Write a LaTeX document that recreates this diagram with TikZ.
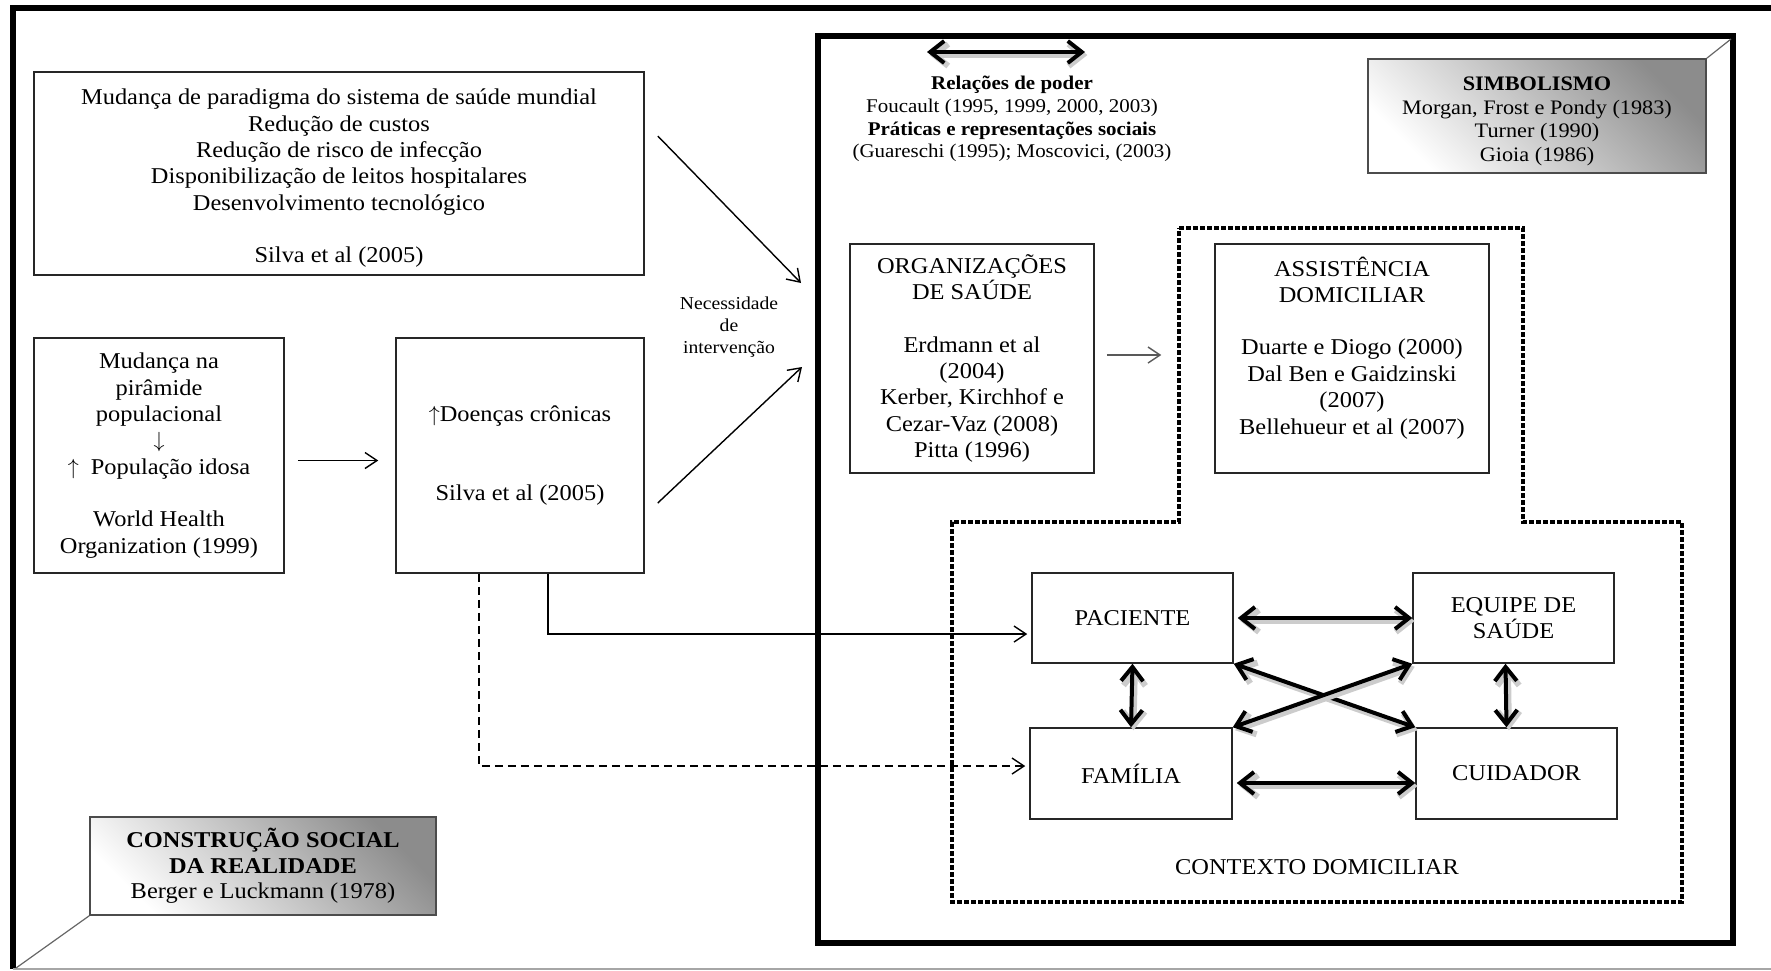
\documentclass[tikz,border=0pt]{standalone}
\usepackage{fontspec}
\setmainfont{Liberation Serif}[FakeStretch=1.08]
\usetikzlibrary{arrows.meta,calc}

\tikzset{
  caixa/.style={draw=black!85, line width=0.75pt, inner sep=0pt, align=center,
    font=\fontsize{11.3}{13.2}\selectfont},
  sombreada/.style={caixa, draw=black!70, top color=black!45, bottom color=white, shading angle=-45},
  seta/.style={-{Straight Barb[length=6pt,width=8pt]}, line width=0.7pt},
  dupla/.style={{Straight Barb[length=7pt,width=11pt]}-{Straight Barb[length=7pt,width=11pt]}, line width=2pt,
    preaction={draw=black!20, line width=3pt, transform canvas={shift={(1.2pt,-1.5pt)}}}},
  pontilhado/.style={line width=2pt, dash pattern=on 2.5pt off 1pt},
}

\begin{document}
\begin{tikzpicture}[x=0.5pt,y=-0.5pt]
		\useasboundingbox (0,0) rectangle (1771,970);
		% frames
		\draw[line width=3pt] (13,969) -- (13,8) -- (1771,8);
		\draw[black!35, line width=1pt] (13,969) -- (1771,969);
		\draw[line width=3pt] (818,36) rectangle (1733,943);
		\draw[pontilhado] (1179,228) -- (1523,228) -- (1523,522) -- (1682,522) -- (1682,902)
		  -- (952,902) -- (952,522) -- (1179,522) -- cycle;
		\coordinate (cantoA) at (1731,39);
		\coordinate (cantoB) at (16,968);
		
		% left side
		\node[caixa, minimum width=305pt, minimum height=101.5pt] (topo) at (339,173.5)
		  {\rule{0pt}{12.5pt}Mudança de paradigma do sistema de saúde mundial\\Redução de custos\\Redução de risco de infecção\\Disponibilização de leitos hospitalares\\Desenvolvimento tecnológico\\[13pt]Silva et al (2005)};
		\node[caixa, minimum width=125pt, minimum height=117.5pt] (pir) at (159,455.5)
		  {Mudança na\\pirâmide\\populacional\\$\downarrow$\\$\uparrow$\hspace{6pt}População idosa\\[13pt]World Health\\Organization (1999)};
		\node[caixa, minimum width=124pt, minimum height=117.5pt] (mid) at (520,455.5)
		  {$\uparrow$Doenças crônicas\\[26pt]Silva et al (2005)};
		\node[font=\fontsize{9.1}{11}\selectfont, align=center] (nec) at (729,327)
		  {Necessidade\\de\\intervenção};
		\node[sombreada, minimum width=173pt, minimum height=49pt, font=\fontsize{11.3}{12.8}\selectfont] (constr) at (263,866)
		  {\textbf{CONSTRUÇÃO SOCIAL}\\\textbf{DA REALIDADE}\\Berger e Luckmann (1978)};
		\coordinate (alvo1) at (801,283);
		\coordinate (alvo2) at (802,367);
		
		% right side
		\node[font=\fontsize{9.7}{11.3}\selectfont, align=center] (rel) at (1012,119)
		  {\textbf{Relações de poder}\\Foucault (1995, 1999, 2000, 2003)\\\textbf{Práticas e representações sociais}\\(Guareschi (1995); Moscovici, (2003)};
		\coordinate (p1) at (927,52);
		\coordinate (p2) at (1085,52);
		\node[sombreada, minimum width=169pt, minimum height=57pt, font=\fontsize{10.3}{11.8}\selectfont] (simb) at (1537,116)
		  {\rule{0pt}{12pt}\textbf{SIMBOLISMO}\\Morgan, Frost e Pondy (1983)\\Turner (1990)\\Gioia (1986)};
		\node[caixa, minimum width=122pt, minimum height=114.5pt] (org) at (972,358.5)
		  {ORGANIZAÇÕES\\DE SAÚDE\\[13pt]Erdmann et al\\(2004)\\Kerber, Kirchhof e\\Cezar-Vaz (2008)\\Pitta (1996)};
		\node[caixa, minimum width=137pt, minimum height=114.5pt] (assist) at (1352,358.5)
		  {ASSISTÊNCIA\\DOMICILIAR\\[13pt]Duarte e Diogo (2000)\\Dal Ben e Gaidzinski\\(2007)\\Bellehueur et al (2007)\\~};
		
		% contexto domiciliar
		\node[caixa, minimum width=100.5pt, minimum height=45pt] (pac) at (1132.5,618) {PACIENTE};
		\node[caixa, minimum width=100.5pt, minimum height=45pt] (eq) at (1513.5,618) {EQUIPE DE\\SAÚDE};
		\node[caixa, minimum width=101pt, minimum height=45.5pt] (fam) at (1131,773.5) {FAMÍLIA};
		\node[caixa, minimum width=100.5pt, minimum height=45.5pt] (cui) at (1516.5,773.5) {CUIDADOR};
		\node[font=\fontsize{11.3}{13}\selectfont] (ctx) at (1317,867) {CONTEXTO DOMICILIAR};
		
		% bevel corners
		\draw[black!60, line width=0.6pt] (simb.north east) -- (cantoA);
		\draw[black!60, line width=0.6pt] (constr.south west) -- (cantoB);
		
		% arrows
		\draw[seta] ($(topo.east)+(13,-37.5)$) -- (alvo1);
		\draw[seta] ($(mid.east)+(13,47.5)$) -- (alvo2);
		\draw[seta, shorten <=6.5pt, shorten >=8.5pt] ([yshift=-2.5pt]pir.east) -- ([yshift=-2.5pt]mid.west);
		\draw[seta, draw=black!65, shorten <=6pt, shorten >=26.5pt] ([yshift=1.75pt]org.east) -- ([yshift=1.75pt]assist.west);
		\draw[seta, shorten >=2pt] ([xshift=14pt]mid.south) |- ([yshift=-8pt]pac.west);
		\draw[seta, dash pattern=on 4pt off 2.5pt, shorten >=2pt] ([xshift=-20.5pt]mid.south) |- ([yshift=3.75pt]fam.west);
		
		\draw[dupla] (p1) -- (p2);
		\draw[dupla, shorten <=2pt] (pac.east) -- (eq.west);
		\draw[dupla, shorten <=2pt] ([yshift=-4.75pt]fam.east) -- ([yshift=-4.75pt]cui.west);
		\draw[dupla] (pac.south) -- (fam.north);
		\draw[dupla] ([xshift=-4pt]eq.south) -- ([xshift=-5pt]cui.north);
		\draw[dupla] (pac.south east) -- (cui.north west);
		\draw[dupla] (fam.north east) -- (eq.south west);
\end{tikzpicture}
\end{document}
